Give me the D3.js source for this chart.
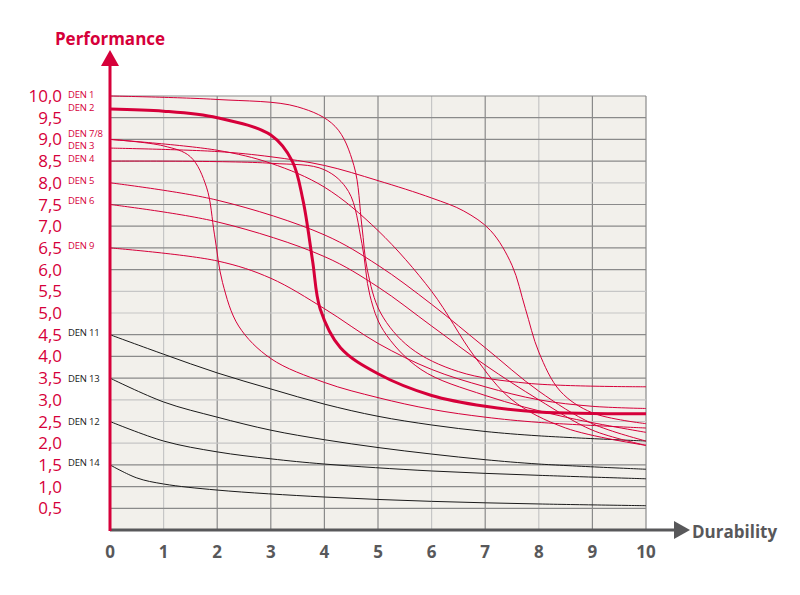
<!DOCTYPE html>
<html><head><meta charset="utf-8">
<script src="https://cdn.jsdelivr.net/npm/d3@7"></script>
<style>body{margin:0;background:#fff}text{font-family:"Open Sans",sans-serif}</style>
</head><body><svg id="c" width="800" height="595"></svg>
<script>
// curve data [x, y]
var den1 = [[0,10],[2,9.92],[3.5,9.75],[4.2,9.3],[4.55,8.4],[4.7,7.0],[4.8,6.0],[5.05,5.0],[5.6,4.2],[6.5,3.65],[7.8,3.38],[10,3.3]];
var den2 = [[0,9.7],[1,9.65],[2,9.5],[3,9.1],[3.4,8.5],[3.6,7.6],[3.78,6.2],[3.92,5.1],[4.3,4.2],[5,3.6],[6,3.1],[7,2.85],[8,2.72],[10,2.68]];
var den7 = [[0,9.0],[1,8.85],[1.5,8.6],[1.8,7.9],[1.95,6.8],[2.1,5.7],[2.4,4.7],[3,3.95],[4,3.4],[5,3.05],[6,2.78],[7,2.6],[8,2.48],[10,2.35]];
var den8 = [[0,9.0],[2,8.75],[3,8.45],[4,7.9],[5,6.9],[6,5.5],[6.8,4.0],[7.5,3.0],[8.5,2.35],[10,1.95]];
var den3 = [[0,8.8],[2,8.72],[3,8.6],[4,8.4],[5,8.05],[6,7.65],[6.6,7.35],[7.1,6.9],[7.5,6.1],[7.75,5.1],[8.0,4.1],[8.4,3.2],[9,2.7],[10,2.45]];
var den4 = [[0,8.5],[3,8.45],[4,8.3],[4.45,7.8],[4.7,6.6],[4.85,5.4],[5.1,4.6],[5.8,3.7],[7,3.1],[8.5,2.6],[10,2.25]];
var den5 = [[0,8.0],[2,7.6],[4,6.8],[5,6.1],[6,5.2],[7,4.2],[8,3.2],[9,2.45],[10,2.05]];
var den6 = [[0,7.5],[2,7.1],[4,6.3],[5,5.6],[6,4.7],[7,3.8],[8,3.0],[9,2.3],[10,1.95]];
var den9 = [[0,6.5],[2,6.2],[3,5.8],[4,5.1],[5,4.3],[6,3.7],[7,3.3],[8,3.0],[9,2.85],[10,2.8]];
var den11 = [[0,4.5],[1,4.05],[2,3.62],[3,3.25],[4,2.9],[5,2.62],[6,2.42],[7,2.27],[8,2.17],[10,2.05]];
var den13 = [[0,3.5],[1,2.95],[2,2.6],[3,2.3],[4,2.08],[5,1.9],[6,1.75],[7,1.62],[8,1.52],[10,1.4]];
var den12 = [[0,2.5],[1,2.05],[2,1.8],[3,1.64],[4,1.52],[6,1.36],[8,1.26],[10,1.18]];
var den14 = [[0,1.5],[0.5,1.2],[1,1.06],[2,0.92],[4,0.76],[6,0.66],[8,0.6],[10,0.56]];

var redCurves = [den1, den7, den8, den3, den4, den5, den6, den9];
var blackCurves = [den11, den13, den12, den14];
var labelNames = ['DEN 1','DEN 2','DEN 7/8','DEN 3','DEN 4','DEN 5','DEN 6','DEN 9','DEN 11','DEN 13','DEN 12','DEN 14'];
var labelValues = [10.03, 9.72, 9.12, 8.85, 8.55, 8.05, 7.58, 6.55, 4.55, 3.48, 2.5, 1.55];
var xTicks = [0,1,2,3,4,5,6,7,8,9,10];
var yTicks = [0.5,1,1.5,2,2.5,3,3.5,4,4.5,5,5.5,6,6.5,7,7.5,8,8.5,9,9.5,10];

var RED = '#d6003a', GREY = '#58585a';
var svg = d3.select('#c');
var x = d3.scaleLinear().domain([0,10]).range([110,646]);
var y = d3.scaleLinear().domain([0,10]).range([530,96]);
var line = d3.line().x(function(d){ return x(d[0]); }).y(function(d){ return y(d[1]); }).curve(d3.curveCatmullRom.alpha(0.5));

svg.append('rect').attr('x',x(0)).attr('y',y(10)).attr('width',x(10)-x(0)).attr('height',y(0)-y(10)).attr('fill','#f2f0eb');

var lightX = [1,6,8], lightY = [2,2.5,3,5,5.5,8];
svg.append('g').selectAll('line').data(xTicks.slice(1)).enter().append('line')
    .attr('x1',x).attr('x2',x).attr('y1',y(10)).attr('y2',y(0))
    .attr('stroke',function(d){ return lightX.indexOf(d) >= 0 ? '#c6c6c6' : '#8a8a8a'; }).attr('stroke-width',1.2);
svg.append('g').selectAll('line').data(yTicks).enter().append('line')
    .attr('x1',x(0)).attr('x2',x(10)).attr('y1',y).attr('y2',y)
    .attr('stroke',function(d){ return lightY.indexOf(d) >= 0 ? '#c6c6c6' : '#8a8a8a'; }).attr('stroke-width',1.2);

svg.append('g').selectAll('path').data(blackCurves).enter().append('path')
    .attr('d',line).attr('fill','none').attr('stroke','#1a1a1a').attr('stroke-width',1);
svg.append('g').selectAll('path').data(redCurves).enter().append('path')
    .attr('d',line).attr('fill','none').attr('stroke',RED).attr('stroke-width',1);
svg.append('path').attr('d',line(den2)).attr('fill','none').attr('stroke',RED).attr('stroke-width',3);

// axes
svg.append('line').attr('x1',x(0)).attr('x2',676).attr('y1',y(0)).attr('y2',y(0)).attr('stroke',GREY).attr('stroke-width',3);
svg.append('path').attr('d','M674,521L690,530L674,539Z').attr('fill',GREY);
svg.append('line').attr('x1',x(0)).attr('x2',x(0)).attr('y1',y(0)+1).attr('y2',64).attr('stroke',RED).attr('stroke-width',3);
svg.append('path').attr('d','M101,66L110,50L119,66Z').attr('fill',RED);
svg.append('text').attr('x',110).attr('y',45).attr('text-anchor','middle').attr('fill',RED)
    .attr('font-size',17).attr('font-weight','bold').text('Performance');
svg.append('text').attr('x',692).attr('y',538).attr('fill',GREY)
    .attr('font-size',17).attr('font-weight','bold').text('Durability');

svg.append('g').selectAll('text').data(xTicks).enter().append('text')
    .attr('x',x).attr('y',558).attr('text-anchor','middle').attr('fill',GREY)
    .attr('font-size',17).attr('font-weight','bold').text(function(d){ return d; });
svg.append('g').selectAll('text').data(yTicks).enter().append('text')
    .attr('x',62).attr('y',function(d){ return y(d) + 6; }).attr('text-anchor','end').attr('fill',RED)
    .attr('font-size',17).text(function(d){ return d3.format('.1f')(d).replace('.',','); });
svg.append('g').selectAll('text').data(labelNames).enter().append('text')
    .attr('x',68).attr('y',function(d,i){ return y(labelValues[i]) + 3; })
    .attr('fill',function(d,i){ return i >= 8 ? '#1a1a1a' : RED; })
    .attr('font-size',9.5).attr('letter-spacing',-0.2).text(function(d){ return d; });
</script></body></html>
